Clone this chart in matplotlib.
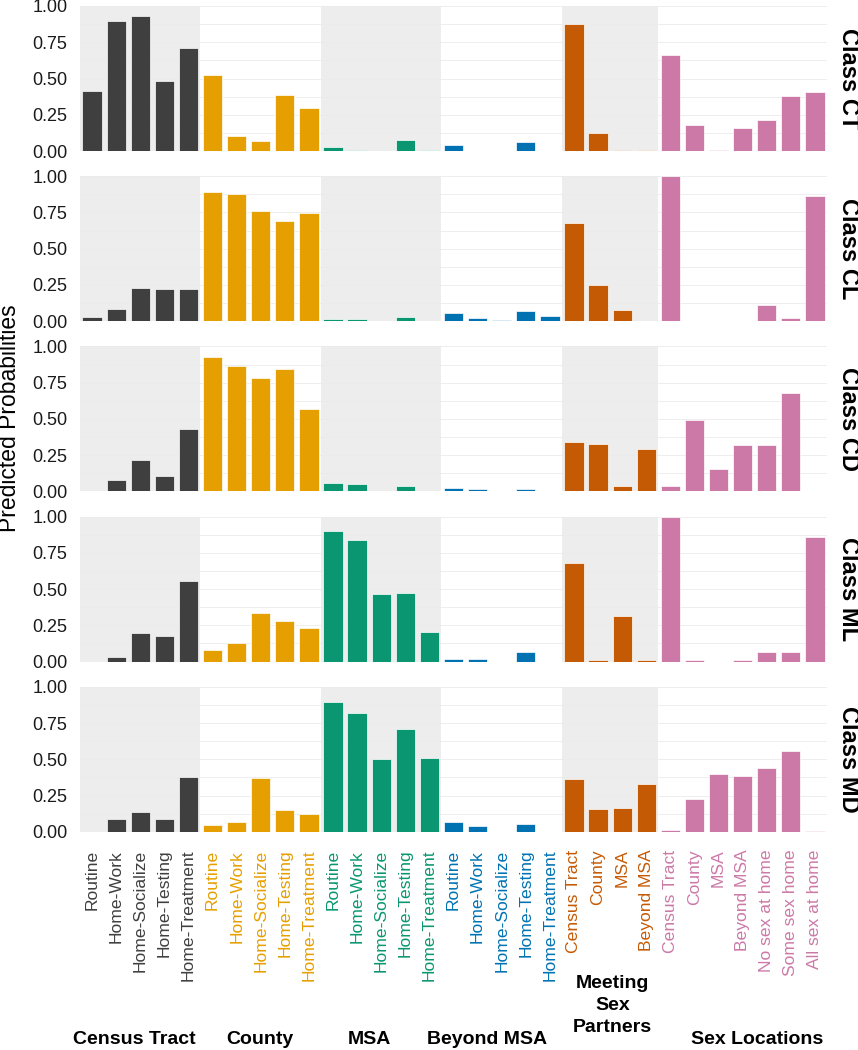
import numpy as np
import matplotlib.pyplot as plt
from matplotlib.transforms import blended_transform_factory

plt.rcParams['font.family'] = ['Liberation Sans', 'DejaVu Sans']

groups = ["Census Tract", "County", "MSA", "Beyond MSA", "Meeting\nSex\nPartners", "Sex Locations"]
group_colors = ["#3f3f3f", "#E69F00", "#0A9670", "#0072B2", "#C55A05", "#CC79A7"]
group_shaded = [True, False, True, False, True, False]

routine = ["Routine", "Home-Work", "Home-Socialize", "Home-Testing", "Home-Treatment"]
meeting = ["Census Tract", "County", "MSA", "Beyond MSA"]
locations = ["Census Tract", "County", "MSA", "Beyond MSA",
             "No sex at home", "Some sex home", "All sex at home"]
group_items = [routine, routine, routine, routine, meeting, locations]

classes = ["Class CT", "Class CL", "Class CD", "Class ML", "Class MD"]

# predicted probabilities, one list per class, in category order
class_ct = [0.417, 0.896, 0.931, 0.486, 0.707,
            0.521, 0.104, 0.069, 0.385, 0.295,
            0.028, 0.004, 0.0, 0.076, 0.004,
            0.041, 0.0, 0.0, 0.060, 0.0,
            0.878, 0.122, 0.005, 0.005,
            0.661, 0.180, 0.005, 0.161, 0.212, 0.380, 0.408]
class_cl = [0.030, 0.085, 0.230, 0.221, 0.219,
            0.894, 0.880, 0.760, 0.689, 0.749,
            0.018, 0.018, 0.0, 0.030, 0.0,
            0.060, 0.020, 0.009, 0.067, 0.037,
            0.677, 0.251, 0.078, 0.0,
            0.998, 0.0, 0.0, 0.0, 0.110, 0.020, 0.864]
class_cd = [0.0, 0.081, 0.220, 0.104, 0.433,
            0.924, 0.862, 0.783, 0.841, 0.567,
            0.055, 0.048, 0.0, 0.040, 0.0,
            0.025, 0.014, 0.0, 0.018, 0.0,
            0.341, 0.325, 0.040, 0.293,
            0.039, 0.490, 0.157, 0.318, 0.322, 0.677, 0.0]
class_ml = [0.0, 0.032, 0.196, 0.178, 0.559,
            0.081, 0.127, 0.337, 0.277, 0.231,
            0.898, 0.838, 0.464, 0.473, 0.206,
            0.020, 0.016, 0.0, 0.067, 0.0,
            0.679, 0.009, 0.314, 0.009,
            0.998, 0.009, 0.0, 0.009, 0.065, 0.067, 0.857]
class_md = [0.0, 0.087, 0.138, 0.090, 0.375,
            0.046, 0.069, 0.368, 0.152, 0.122,
            0.897, 0.816, 0.499, 0.710, 0.510,
            0.069, 0.039, 0.0, 0.055, 0.0,
            0.361, 0.159, 0.161, 0.329,
            0.009, 0.223, 0.400, 0.382, 0.439, 0.559, 0.007]
class_values = [class_ct, class_cl, class_cd, class_ml, class_md]

# label centres used for the group titles (in category units)
group_label_x = [2.76, 7.97, 12.51, 17.39, 22.6, 28.6]

# flatten categories
labels, colors, group_idx = [], [], []
for g, items in enumerate(group_items):
    for it in items:
        labels.append(it)
        colors.append(group_colors[g])
        group_idx.append(g)
n = len(labels)
x = np.arange(1, n + 1)

W, H = 858, 1050
fig = plt.figure(figsize=(W / 100, H / 100), dpi=100)

left, right = 80, 827
top0, step, ph = 6, 170.2, 145

axes = []
for i, cname in enumerate(classes):
    top = top0 + step * i
    ax = fig.add_axes([left / W, 1 - (top + ph) / H, (right - left) / W, ph / H])
    axes.append(ax)

    # shaded group backgrounds
    start = 0.5
    for g, items in enumerate(group_items):
        end = start + len(items)
        if group_shaded[g]:
            ax.axvspan(start, end, ymin=0, ymax=1, color="#ededed", lw=0, zorder=0.5)
        start = end

    ax.bar(x, class_values[i], width=0.8, color=colors, edgecolor="white",
           linewidth=0.5, zorder=2)

    ax.set_xlim(0.5, n + 0.5)
    ax.set_ylim(0, 1)
    ax.set_yticks([0, 0.25, 0.5, 0.75, 1.0])
    ax.set_yticklabels(["0.00", "0.25", "0.50", "0.75", "1.00"])
    ax.set_yticks([0.125, 0.375, 0.625, 0.875], minor=True)
    ax.grid(axis="y", which="both", color="#ebebeb", lw=0.6, zorder=0.2)
    ax.set_axisbelow(True)
    for s in ax.spines.values():
        s.set_visible(False)
    ax.tick_params(axis="y", which="both", length=0, pad=9, labelsize=13,
                   labelcolor="#1a1a1a")
    ax.tick_params(axis="x", length=0)
    ax.set_xticks(x)
    if i < len(classes) - 1:
        ax.set_xticklabels([])
    else:
        ax.set_xticklabels(labels, rotation=90, fontsize=12.6, va="top", ha="center")
        ax.tick_params(axis="x", pad=13)
        for lab, c in zip(ax.get_xticklabels(), colors):
            lab.set_color(c)

    # strip label on the right
    fig.text(848 / W, 1 - (top + ph / 2) / H, cname, rotation=-90, ha="center",
             va="center", fontsize=17, fontweight="bold")

# group titles under the bottom panel
trans = blended_transform_factory(axes[-1].transData, fig.transFigure)
for g, name in enumerate(groups):
    ytop = 975 if "\n" in name else 1031
    fig.text(group_label_x[g], 1 - ytop / H, name, transform=trans, ha="center",
             va="top", fontsize=14, fontweight="bold", linespacing=1.39)

fig.text(10 / W, 1 - 418 / H, "Predicted Probabilities", rotation=90,
         ha="center", va="center", fontsize=16.5)

fig.savefig("out.png", dpi=100)
